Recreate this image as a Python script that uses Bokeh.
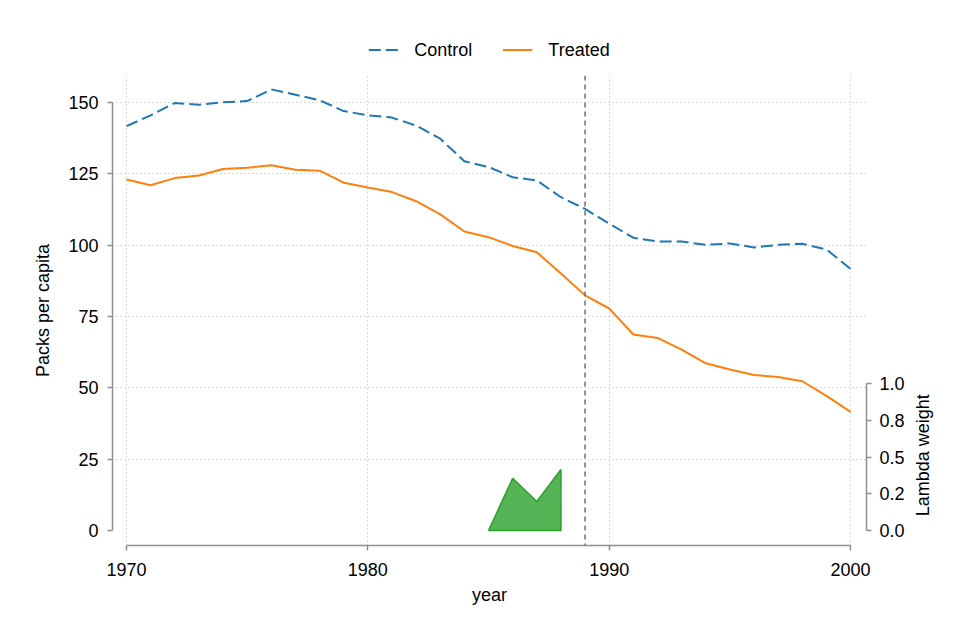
import math
from bokeh.plotting import figure
from bokeh.layouts import column, row
from bokeh.models import (Range1d, LinearAxis, FixedTicker, Span, Legend, LegendItem)
from bokeh.core.properties import value
from bokeh.embed import file_html
from bokeh.resources import INLINE

# ---- data ----
years = list(range(1970, 2001))
control = [141.7, 145.5, 149.8, 149.2, 150.1, 150.5, 154.6, 152.7, 150.8, 147.0,
           145.5, 144.7, 141.9, 137.3, 129.4, 127.4, 123.8, 122.7, 116.8, 112.7,
           107.5, 102.6, 101.3, 101.3, 100.1, 100.6, 99.2, 100.1, 100.5, 98.5, 91.7]
treated = [123.0, 121.0, 123.5, 124.4, 126.7, 127.1, 128.0, 126.4, 126.1, 121.9,
           120.2, 118.6, 115.4, 110.8, 104.8, 102.8, 99.7, 97.5, 90.1, 82.4,
           77.8, 68.7, 67.5, 63.4, 58.6, 56.4, 54.5, 53.8, 52.3, 47.2, 41.6]
lambda_years = [1985, 1986, 1987, 1988]
lambda_weights = [0.0, 0.356, 0.198, 0.416]
treat_year = 1989
series_names = ["Control", "Treated"]

x_ticks = [1970, 1980, 1990, 2000]
y_ticks = [0, 25, 50, 75, 100, 125, 150]
lam_ticks = [0.0, 0.25, 0.5, 0.75, 1.0]
lam_tick_labels = ["0.0", "0.2", "0.5", "0.8", "1.0"]
lam_title = "Lambda weight"

FONT = "Liberation Sans"
FS = "18px"
AXIS_GRAY = "#8f8f8f"
C_CONTROL = "#1f77b4"
C_TREATED = "#ff7f0e"
DASH = "12 5"

lam_range = Range1d(-0.102, 3.102)

p = figure(frame_width=754, frame_height=470,
           x_range=Range1d(1969.42, 2000.66),
           y_range=Range1d(-5.26, 159.46),
           output_backend="svg", toolbar_location=None,
           min_border_left=112, min_border_right=40,
           min_border_top=0, min_border_bottom=75,
           x_axis_label="year", y_axis_label="Packs per capita")
p.extra_y_ranges = {"lambda": lam_range}
p.outline_line_color = None
p.background_fill_color = "white"
p.border_fill_color = "white"

# grids
p.xgrid.ticker = FixedTicker(ticks=x_ticks)
p.ygrid.ticker = FixedTicker(ticks=y_ticks[1:])
for g in (p.xgrid, p.ygrid):
    g.grid_line_color = "#b4b4b4"
    g.grid_line_dash = "1 3"
    g.grid_line_width = 1

def style_axis(ax, standoff, label_standoff):
    ax.axis_line_color = AXIS_GRAY
    ax.axis_line_width = 1.5
    ax.major_tick_line_color = AXIS_GRAY
    ax.major_tick_line_width = 1.5
    ax.major_tick_out = 5
    ax.major_tick_in = 0
    ax.minor_tick_line_color = None
    ax.major_label_text_font = FONT
    ax.major_label_text_font_size = FS
    ax.major_label_text_color = "black"
    ax.major_label_standoff = standoff
    ax.axis_label_text_font = FONT
    ax.axis_label_text_font_size = FS
    ax.axis_label_text_font_style = "normal"
    ax.axis_label_text_color = "black"
    ax.axis_label_standoff = label_standoff

xa = p.xaxis[0]
xa.ticker = FixedTicker(ticks=x_ticks)
xa.bounds = (x_ticks[0], x_ticks[-1])
style_axis(xa, 12, 6)

ya = p.yaxis[0]
ya.ticker = FixedTicker(ticks=y_ticks)
ya.bounds = (y_ticks[0], y_ticks[-1])
style_axis(ya, 9, 12)

ra = LinearAxis(y_range_name="lambda")
ra.ticker = FixedTicker(ticks=lam_ticks)
ra.major_label_overrides = dict(zip(lam_ticks, lam_tick_labels))
ra.bounds = (lam_ticks[0], lam_ticks[-1])
style_axis(ra, 8, 9)
p.add_layout(ra, "right")

# lambda weights area
p.patch(lambda_years + lambda_years[::-1],
        lambda_weights + [0.0] * len(lambda_weights),
        y_range_name="lambda",
        fill_color="#2ca02c", fill_alpha=0.8,
        line_color="#2ca02c", line_width=1.5)

# treatment line
p.add_layout(Span(location=treat_year, dimension="height",
                  line_color="#6e6e6e", line_dash="5 4", line_width=1.5))

p.line(years, control, line_color=C_CONTROL, line_width=2, line_dash=DASH)
p.line(years, treated, line_color=C_TREATED, line_width=2)

# ---- strip on the right holding the lambda axis title ----
side = figure(frame_width=34, frame_height=470,
              x_range=Range1d(0, 1), y_range=lam_range,
              output_backend="svg", toolbar_location=None,
              min_border_left=0, min_border_right=0,
              min_border_top=0, min_border_bottom=75)
side.axis.visible = False
side.grid.visible = False
side.outline_line_color = None
side.background_fill_color = "white"
side.border_fill_color = "white"
side.text(x=[0.5], y=[(lam_ticks[0] + lam_ticks[-1]) / 2], text=[lam_title],
          angle=math.pi / 2, x_offset=-2, y_offset=-2,
          text_align="center", text_baseline="middle",
          text_font=value(FONT), text_font_size=FS, text_color="black")

# ---- legend strip above the plot ----
lf = figure(frame_width=754, frame_height=51,
            x_range=Range1d(0, 1), y_range=Range1d(0, 1),
            output_backend="svg", toolbar_location=None,
            min_border_left=112, min_border_right=74,
            min_border_top=24, min_border_bottom=0)
lf.axis.visible = False
lf.grid.visible = False
lf.outline_line_color = None
lf.background_fill_color = "white"
lf.border_fill_color = "white"
nan = float("nan")
k_c = lf.line([nan], [nan], line_color=C_CONTROL, line_width=2, line_dash=DASH)
k_t = lf.line([nan], [nan], line_color=C_TREATED, line_width=2)

legend = Legend(items=[LegendItem(label=series_names[0], renderers=[k_c]),
                       LegendItem(label=series_names[1], renderers=[k_t])],
                orientation="horizontal", location="center",
                border_line_color=None, background_fill_alpha=0,
                label_text_font=FONT, label_text_font_size=FS,
                label_text_color="black",
                glyph_width=30, glyph_height=20, label_standoff=16,
                spacing=30, padding=8, margin=0)
lf.add_layout(legend)

layout = column(lf, row(p, side, spacing=0), spacing=0)
open("out.html", "w").write(file_html(layout, INLINE))
